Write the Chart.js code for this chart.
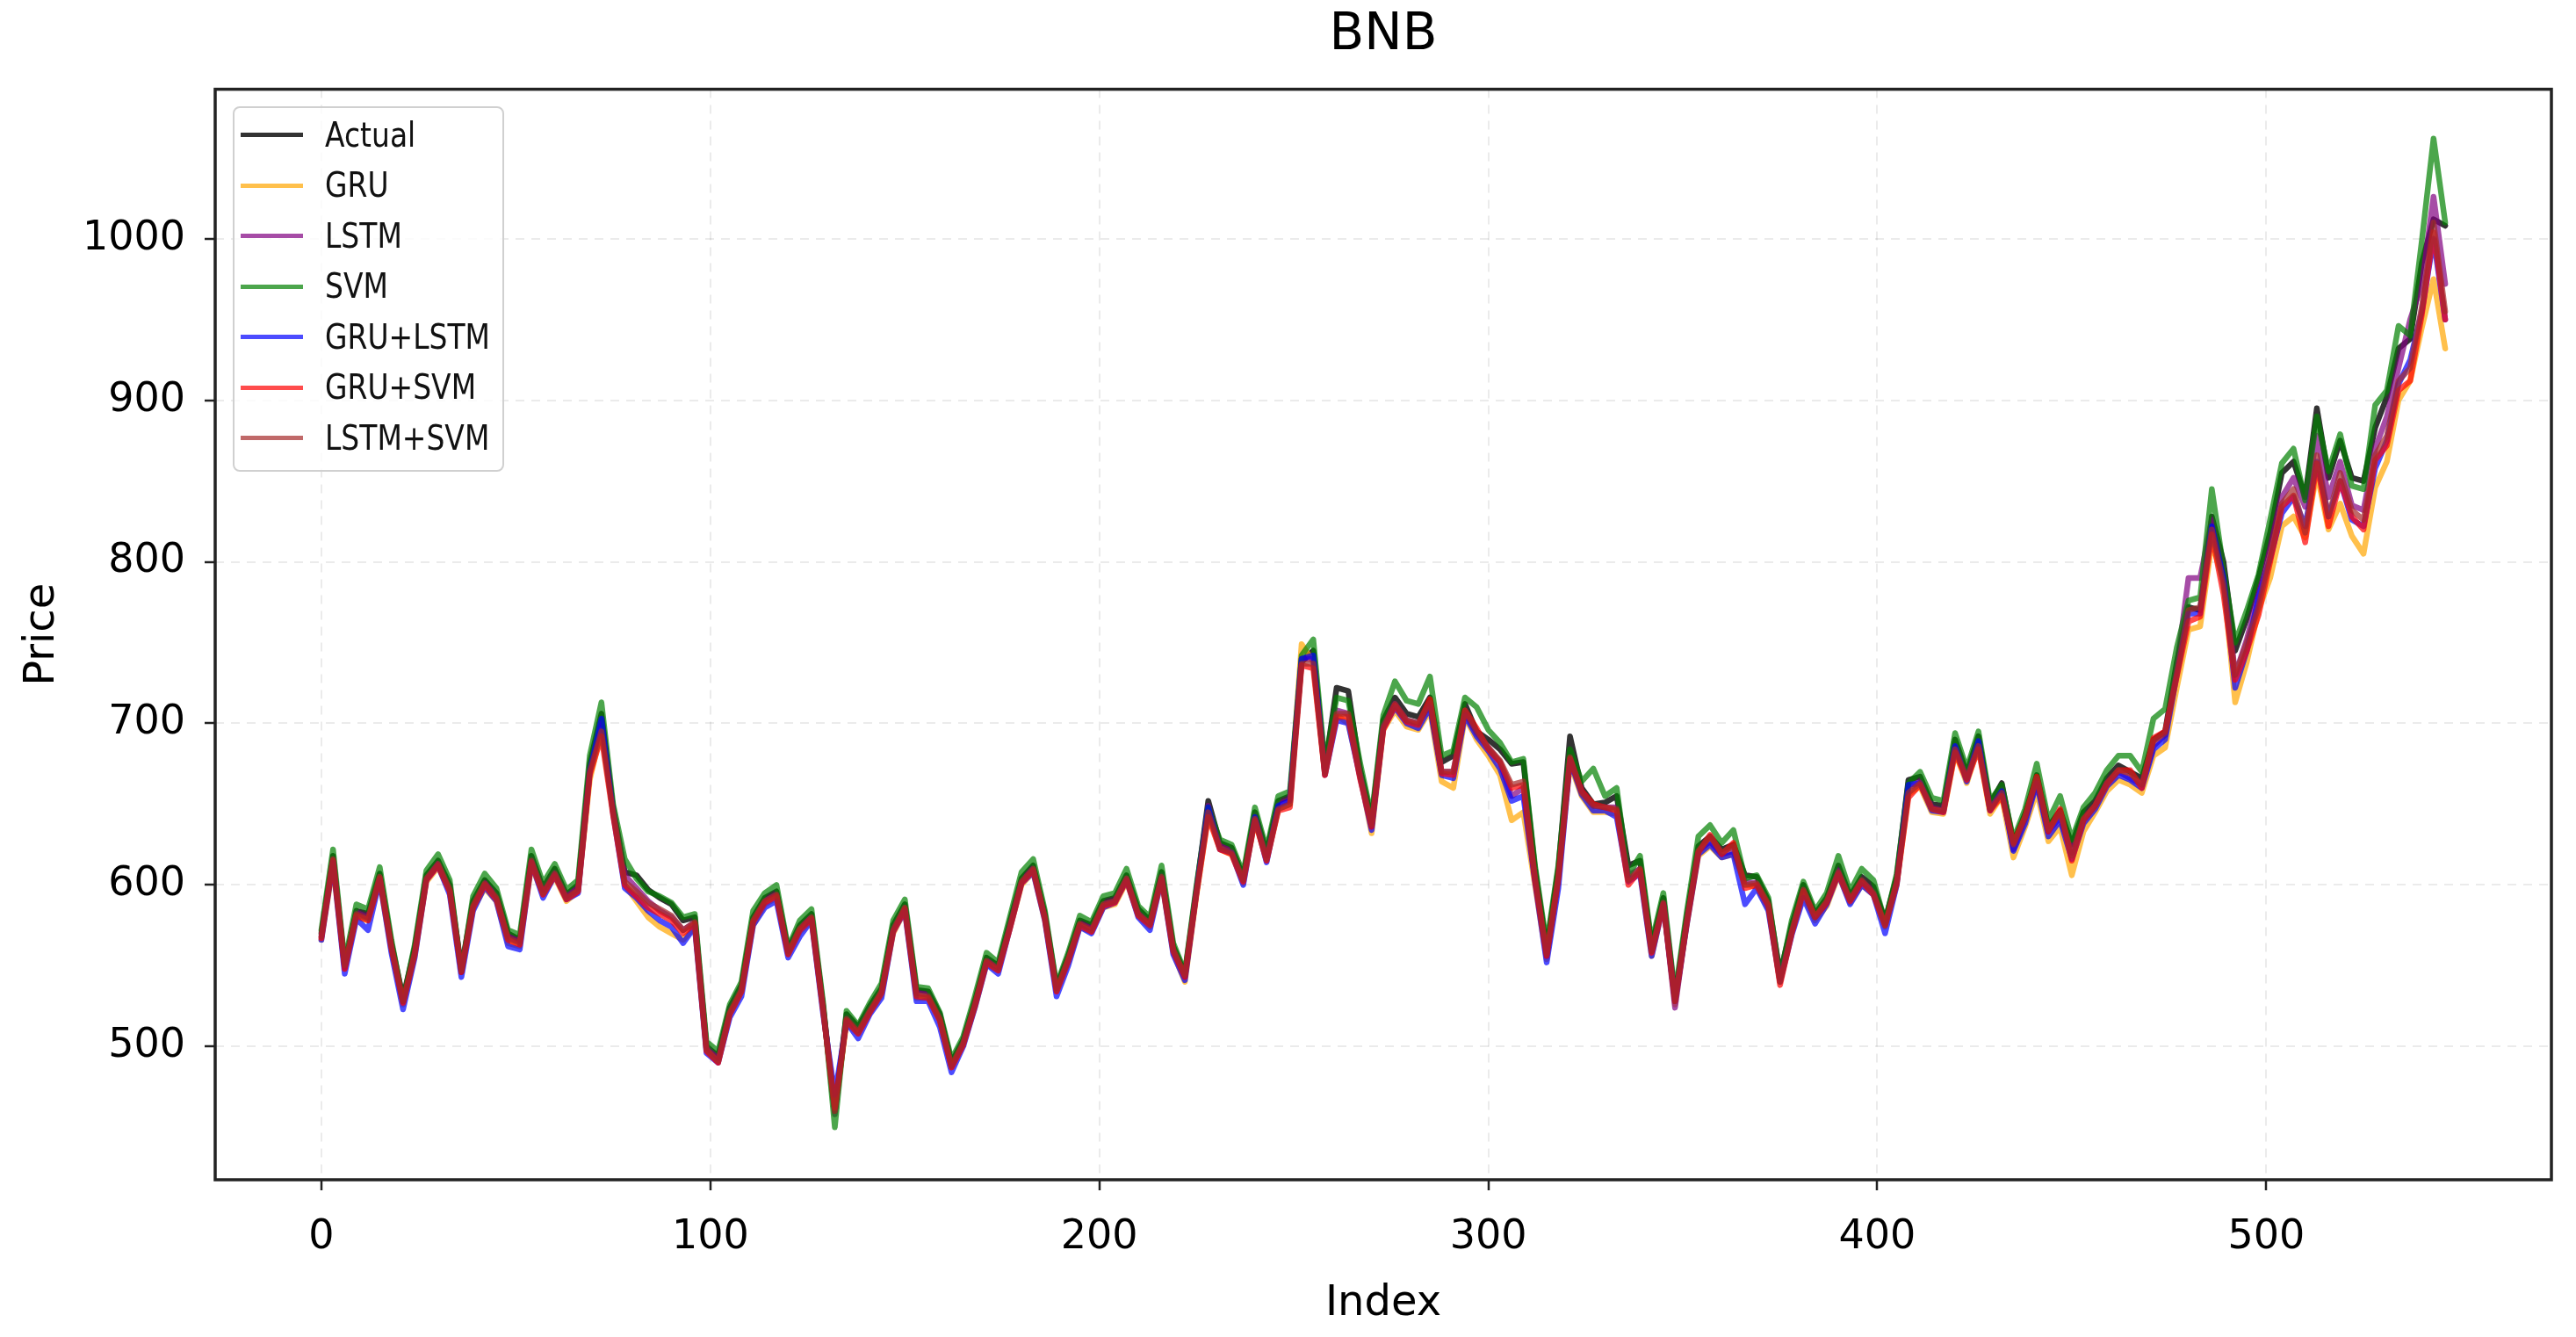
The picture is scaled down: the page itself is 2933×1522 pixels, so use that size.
<!DOCTYPE html>
<html><head><meta charset="utf-8">
<script src="https://cdn.jsdelivr.net/npm/chart.js@4/dist/chart.umd.min.js"></script>
<style>
html,body{margin:0;padding:0;background:#fff;}
#wrap{position:relative;width:2933px;height:1522px;}
#legend{position:absolute;left:265px;top:121px;width:309px;height:416px;box-sizing:border-box;border:2px solid #d0d0d0;border-radius:8px;background:rgba(255,255,255,0.8);}
.item{position:absolute;left:0;height:40px;width:300px;}
.swatch{position:absolute;left:7px;top:17.5px;width:71px;height:5px;}
.txt{position:absolute;left:103px;top:0;font-family:'DejaVu Sans';font-size:39px;color:#111;white-space:nowrap;transform:scaleX(0.845);transform-origin:0 50%;line-height:40px;}
</style></head>
<body><div id="wrap"><canvas id="c" width="2933" height="1522"></canvas><div id="legend"></div></div>
<script>
const index = [0,3,6,9,12,15,18,21,24,27,30,33,36,39,42,45,48,51,54,57,60,63,66,69,72,75,78,81,84,87,90,93,96,99,102,105,108,111,114,117,120,123,126,129,132,135,138,141,144,147,150,153,156,159,162,165,168,171,174,177,180,183,186,189,192,195,198,201,204,207,210,213,216,219,222,225,228,231,234,237,240,243,246,249,252,255,258,261,264,267,270,273,276,279,282,285,288,291,294,297,300,303,306,309,312,315,318,321,324,327,330,333,336,339,342,345,348,351,354,357,360,363,366,369,372,375,378,381,384,387,390,393,396,399,402,405,408,411,414,417,420,423,426,429,432,435,438,441,444,447,450,453,456,459,462,465,468,471,474,477,480,483,486,489,492,495,498,501,504,507,510,513,516,519,522,525,528,531,534,537,540,543,546];

const actual = [570,618,550,584,582,607,564,530,561,606,
615,600,548,590,603,595,570,566,618,598,
610,594,600,675,706,647,608,606,597,592,
588,578,580,500,494,524,538,580,592,596,
560,575,582,525,460,520,512,525,536,575,
588,535,534,520,490,504,528,555,550,577,
604,612,582,537,556,578,575,590,592,606,
585,578,608,562,545,598,652,626,623,605,
645,620,652,655,738,745,672,722,720,672,
640,702,716,706,704,716,676,680,712,695,
690,684,675,676,610,560,610,692,660,650,
651,655,612,615,562,592,530,580,624,630,
622,625,606,605,590,545,575,600,582,592,
612,593,605,599,578,605,665,667,650,649,
690,669,692,650,663,626,644,668,636,646,
625,645,652,666,674,670,666,690,695,738,
772,770,828,800,745,765,790,818,855,862,
840,895,852,875,852,850,883,902,932,938,
985,1012,1008];

const gru = [566,612,548,580,578,602,560,526,556,602,
611,596,546,585,598,590,564,562,612,594,
605,590,596,665,696,645,600,590,580,574,
570,566,574,498,490,520,534,575,588,592,
557,571,578,522,462,514,508,521,532,570,
584,530,530,516,487,501,524,551,547,573,
600,608,578,534,552,574,571,586,588,602,
581,574,603,558,540,594,644,622,619,601,
640,615,647,650,749,738,668,705,700,668,
632,696,708,698,696,708,664,660,704,690,
680,668,640,645,600,554,602,675,655,645,
645,644,603,608,556,588,526,575,618,624,
617,619,600,599,585,540,570,594,578,587,
606,589,600,594,574,600,656,661,645,644,
682,663,686,644,655,617,636,658,627,636,
606,633,645,658,665,662,657,680,685,722,
758,760,812,788,713,738,770,790,822,828,
815,855,820,836,816,805,846,862,900,912,
945,975,932];

const lstm = [568,616,549,583,580,605,562,528,559,604,
613,598,547,588,601,593,568,565,616,597,
608,593,598,672,700,648,606,598,590,584,
580,572,577,500,493,523,536,578,590,594,
559,573,580,524,458,518,510,523,534,573,
586,533,532,518,488,503,526,553,549,575,
602,610,580,536,554,576,573,588,590,604,
583,576,606,560,543,597,649,624,621,603,
643,618,650,653,740,740,670,708,706,670,
636,699,712,702,700,712,670,670,707,694,
685,676,655,660,604,556,605,678,658,649,
648,648,606,610,559,589,524,577,621,627,
619,621,602,601,587,542,572,597,580,589,
609,591,602,596,576,602,660,664,648,646,
686,666,689,647,659,622,641,664,633,642,
620,640,649,663,670,666,662,686,693,735,
790,790,826,796,730,752,780,808,840,852,
834,878,840,862,835,832,870,890,920,950,
972,1026,972];

const svm = [572,622,552,588,585,611,566,528,563,609,
619,603,546,593,607,598,572,569,622,601,
613,597,603,680,713,650,616,604,596,593,
589,580,582,503,497,526,540,584,595,600,
561,578,585,527,450,522,513,527,539,578,
591,537,536,521,492,506,531,558,552,580,
608,616,584,538,558,581,577,593,595,610,
587,580,612,564,546,600,648,628,625,607,
648,622,655,658,742,752,675,716,714,676,
642,705,726,714,712,729,680,683,716,710,
696,688,676,678,612,563,612,684,664,672,
655,660,606,618,564,595,532,583,630,637,
626,634,604,606,592,543,578,602,584,595,
618,596,610,603,577,607,663,670,654,652,
694,672,695,652,662,628,647,675,640,655,
628,648,657,671,680,680,670,703,709,747,
776,778,845,796,750,770,792,826,861,870,
838,890,856,879,847,845,897,906,946,940,
999,1062,1010];

const gruLstm = [566,614,545,579,572,603,558,523,555,603,
612,594,543,584,599,590,562,560,614,592,
606,591,595,670,703,644,598,592,584,578,
574,564,574,496,490,518,531,575,586,590,
555,568,578,520,470,515,505,520,530,571,
584,528,528,512,484,500,524,551,545,573,
601,608,578,531,550,574,570,586,589,603,
580,572,604,557,541,596,648,622,620,600,
642,614,649,652,740,742,668,702,700,667,
634,697,710,700,697,710,668,666,705,692,
683,672,652,655,602,552,598,677,656,646,
646,642,602,607,556,588,528,575,619,625,
617,619,588,598,584,540,569,592,576,588,
607,588,600,594,570,600,662,663,646,645,
686,664,689,646,658,621,638,663,630,640,
616,638,647,661,668,665,660,684,690,730,
768,768,822,790,722,745,778,802,830,840,
822,862,828,850,826,822,858,875,910,925,
955,1000,950];

const gruSvm = [567,615,548,581,578,604,561,527,557,603,
612,596,546,586,600,591,566,563,614,594,
606,591,596,668,692,643,600,593,586,582,
578,570,576,497,490,520,534,577,589,593,
557,572,579,522,462,516,508,521,533,571,
585,531,530,516,487,501,525,552,547,573,
601,609,579,534,553,575,571,587,589,603,
581,575,604,559,543,595,642,622,619,602,
640,615,646,648,736,734,668,704,704,666,
636,696,711,701,699,715,669,668,708,697,
684,676,660,662,603,556,604,678,658,650,
648,646,600,609,558,588,528,576,620,631,
619,626,598,600,587,538,570,596,580,589,
607,590,602,594,575,601,654,662,647,645,
682,665,684,646,655,626,642,667,633,647,
615,640,649,662,671,671,660,691,695,729,
763,766,817,780,727,745,767,800,834,841,
812,861,822,850,828,820,863,872,906,912,
953,1004,950];

const lstmSvm = [568,616,550,582,579,605,562,528,558,604,
613,597,547,587,601,592,567,564,615,595,
607,592,597,670,695,645,602,596,589,585,
581,572,577,498,491,521,535,578,590,594,
558,573,580,523,460,517,509,522,534,572,
586,532,531,517,488,502,526,553,548,574,
602,610,580,535,554,576,572,588,590,604,
582,576,605,560,544,596,645,623,620,603,
641,616,647,650,737,737,669,706,706,668,
637,698,712,702,700,713,670,670,708,695,
685,677,662,664,605,557,605,679,657,649,
648,647,603,610,559,589,528,577,621,630,
620,624,600,601,588,540,571,597,580,590,
608,591,603,595,575,602,657,663,647,646,
684,666,686,647,657,625,642,666,634,645,
618,641,649,663,671,669,662,689,694,731,
770,772,820,786,730,750,772,804,836,845,
818,866,828,855,832,826,866,878,912,920,
958,1010,955];

const seriesNames = ['Actual','GRU','LSTM','SVM','GRU+LSTM','GRU+SVM','LSTM+SVM'];
const seriesValues = [actual, gru, lstm, svm, gruLstm, gruSvm, lstmSvm];
const seriesColors = ['rgba(0,0,0,0.8)','rgba(255,165,0,0.7)','rgba(128,0,128,0.7)','rgba(0,128,0,0.7)','rgba(0,0,255,0.7)','rgba(255,0,0,0.7)','rgba(165,42,42,0.7)'];
const xTicks = [0,100,200,300,400,500];
const yTicks = [500,600,700,800,900,1000];
const titleText = 'BNB';
const xTitle = 'Index';
const yTitle = 'Price';

Chart.defaults.font.family = "'DejaVu Sans', sans-serif";
Chart.defaults.color = '#000';

const datasets = seriesNames.map((name, s) => ({
  label: name,
  data: seriesValues[s].map((v, k) => ({x: index[k], y: v})),
  borderColor: seriesColors[s],
  backgroundColor: seriesColors[s],
  borderWidth: 6.5,
  pointRadius: 0,
  tension: 0,
  fill: false,
  borderJoinStyle: 'round',
  borderCapStyle: 'round',
  order: seriesNames.length - 1 - s
}));

const framePlugin = {
  id: 'frame',
  afterDatasetsDraw(chart) {
    const {ctx, chartArea: a} = chart;
    ctx.save();
    ctx.strokeStyle = '#222';
    ctx.lineWidth = 3.5;
    ctx.strokeRect(a.left, a.top, a.right - a.left, a.bottom - a.top);
    ctx.restore();
  }
};

const gridCommon = {
  color: 'rgba(0,0,0,0.08)',
  lineWidth: 2,
  tickColor: '#222',
  tickWidth: 2.5,
  tickLength: 12,
  drawTicks: true
};

const chart = new Chart(document.getElementById('c'), {
  type: 'line',
  data: { datasets },
  plugins: [framePlugin],
  options: {
    responsive: false,
    devicePixelRatio: 1,
    animation: false,
    events: [],
    layout: { padding: { left: 0, right: 28, top: 0, bottom: 0 } },
    plugins: {
      legend: { display: false },
      tooltip: { enabled: false },
      title: {
        display: true, text: titleText, color: '#000', fullSize: false,
        font: { size: 58, weight: 'normal' },
        padding: { top: 6, bottom: 26 }
      }
    },
    scales: {
      x: {
        type: 'linear', min: -27.3, max: 573.3,
        afterFit: s => { s.height = 179; },
        afterBuildTicks: s => { s.ticks = xTicks.map(v => ({value: v})); },
        ticks: { font: { size: 46 }, color: '#000', padding: 26, maxRotation: 0, autoSkip: false, callback: v => String(v) },
        grid: gridCommon,
        border: { display: false, dash: [10, 8] },
        title: { display: true, text: xTitle, font: { size: 48 }, color: '#000', padding: { top: 0, bottom: 9 } }
      },
      y: {
        type: 'linear', min: 417.5, max: 1092.5,
        afterFit: s => { s.width = 245; },
        afterBuildTicks: s => { s.ticks = yTicks.map(v => ({value: v})); },
        ticks: { font: { size: 46 }, color: '#000', padding: 22, autoSkip: false, callback: v => String(v) },
        grid: gridCommon,
        border: { display: false, dash: [10, 8] },
        title: { display: true, text: yTitle, font: { size: 48 }, color: '#000', padding: { top: 20, bottom: 0 } }
      }
    }
  }
});

// legend built from the chart's datasets
const legend = document.getElementById('legend');
chart.data.datasets.forEach((ds, i) => {
  const item = document.createElement('div');
  item.className = 'item';
  item.style.top = (30.5 + 57.5 * i - 20) + 'px';
  const sw = document.createElement('div');
  sw.className = 'swatch';
  sw.style.background = ds.borderColor;
  const tx = document.createElement('div');
  tx.className = 'txt';
  tx.textContent = ds.label;
  item.appendChild(sw);
  item.appendChild(tx);
  legend.appendChild(item);
});
</script></body></html>
